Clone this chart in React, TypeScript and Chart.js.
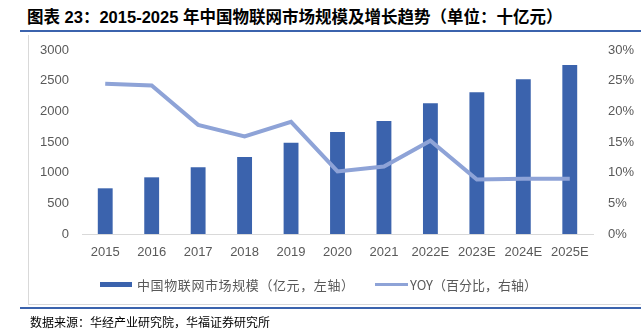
import React, { useEffect, useRef } from "react";
import { Chart, registerables } from "chart.js";

Chart.register(...registerables);

const categories = ["2015", "2016", "2017", "2018", "2019", "2020", "2021", "2022E", "2023E", "2024E", "2025E"];
const marketSize = [745, 924, 1087, 1255, 1489, 1663, 1842, 2130, 2310, 2522, 2755];
const yoyPct = [24.5, 24.2, 17.8, 15.9, 18.3, 10.2, 11.0, 15.2, 8.9, 9.0, 9.0];
const leftTickMax = 3000;
const leftTickStep = 500;
const rightTickMax = 30;
const rightTickStep = 5;

const titleText = "图表 23：2015-2025 年中国物联网市场规模及增长趋势（单位：十亿元）";
const barLabel = "中国物联网市场规模（亿元，左轴）";
const lineLabel = "YOY（百分比，右轴）";
const sourceText = "数据来源：华经产业研究院，华福证券研究所";

const BAR_COLOR = "#3B63AD";
const LINE_COLOR = "#8EA3D7";
const TICK_COLOR = "#595959";
const TICK_FONT = { family: "'Liberation Sans', Arial, sans-serif", size: 13 };

export default function App() {
  const canvasRef = useRef<HTMLCanvasElement | null>(null);

  useEffect(() => {
    if (!canvasRef.current) return;
    const chart = new Chart(canvasRef.current, {
      type: "bar",
      data: {
        labels: categories,
        datasets: [
          {
            type: "line",
            label: lineLabel,
            data: yoyPct,
            yAxisID: "y1",
            borderColor: LINE_COLOR,
            backgroundColor: LINE_COLOR,
            borderWidth: 4,
            pointRadius: 0,
            tension: 0,
            order: 0,
          },
          {
            type: "bar",
            label: barLabel,
            data: marketSize,
            yAxisID: "y",
            backgroundColor: BAR_COLOR,
            borderWidth: 0,
            barPercentage: 0.32,
            categoryPercentage: 1,
            order: 1,
          },
        ],
      },
      options: {
        responsive: false,
        animation: false,
        layout: { padding: { top: 50, left: 0, right: 0, bottom: 0 } },
        plugins: {
          legend: { display: false },
          title: { display: false },
          tooltip: { enabled: false },
        },
        scales: {
          x: {
            grid: { display: false, drawTicks: false },
            border: { display: true, color: "#D9D9D9", width: 1 },
            ticks: { color: TICK_COLOR, font: TICK_FONT, padding: 11, maxRotation: 0 },
            afterFit: (s: any) => {
              s.height = 100;
            },
          },
          y: {
            position: "left",
            min: 0,
            max: leftTickMax,
            grid: { display: false, drawTicks: false },
            border: { display: false },
            ticks: {
              stepSize: leftTickStep,
              color: TICK_COLOR,
              font: TICK_FONT,
              padding: 13,
              callback: (v: any) => String(v),
            },
            afterFit: (s: any) => {
              s.width = 82;
            },
          },
          y1: {
            position: "right",
            min: 0,
            max: rightTickMax,
            grid: { display: false, drawTicks: false },
            border: { display: false },
            ticks: {
              stepSize: rightTickStep,
              color: TICK_COLOR,
              font: TICK_FONT,
              padding: 15,
              callback: (v: any) => v + "%",
            },
            afterFit: (s: any) => {
              s.width = 48;
            },
          },
        },
      },
    } as any);
    return () => chart.destroy();
  }, []);

  const cjk = "'Noto Sans CJK SC', 'Liberation Sans', sans-serif";

  return (
    <div
      style={{
        position: "absolute",
        left: 0,
        top: 0,
        width: 641,
        height: 334,
        background: "#fff",
        overflow: "hidden",
        fontFamily: cjk,
      }}
    >
      <div
        style={{
          position: "absolute",
          left: 27,
          top: 6,
          fontSize: 16.5,
          fontWeight: "bold",
          color: "#000",
          whiteSpace: "nowrap",
          fontFamily: "'Liberation Sans', 'Noto Sans CJK SC', sans-serif",
          lineHeight: "22px",
        }}
      >
        {titleText}
      </div>
      <div style={{ position: "absolute", left: 20, top: 30, width: 621, height: 2, background: "#3B63AD" }} />
      <div style={{ position: "absolute", left: 28, top: 35, width: 1, height: 270, background: "#D9D9D9" }} />
      <div style={{ position: "absolute", left: 28, top: 304, width: 613, height: 1, background: "#D9D9D9" }} />
      <div style={{ position: "absolute", left: 20, top: 307, width: 621, height: 2, background: "#3B63AD" }} />
      <canvas
        ref={canvasRef}
        width={641}
        height={334}
        style={{ position: "absolute", left: 0, top: 0, width: 641, height: 334 }}
      />
      <div
        style={{
          position: "absolute",
          left: 100,
          top: 274,
          height: 20,
          display: "flex",
          alignItems: "center",
          fontSize: 13,
          color: TICK_COLOR,
          whiteSpace: "nowrap",
          letterSpacing: 0.6,
        }}
      >
        <span style={{ display: "inline-block", width: 32, height: 5, background: BAR_COLOR, marginRight: 5 }} />
        <span>{barLabel}</span>
      </div>
      <div
        style={{
          position: "absolute",
          left: 375,
          top: 274,
          height: 20,
          display: "flex",
          alignItems: "center",
          fontSize: 13,
          color: TICK_COLOR,
          whiteSpace: "nowrap",
        }}
      >
        <span style={{ display: "inline-block", width: 33, height: 3, background: LINE_COLOR, marginRight: 2 }} />
        <span>{lineLabel}</span>
      </div>
      <div
        style={{
          position: "absolute",
          left: 30,
          top: 314,
          fontSize: 12,
          color: "#000",
          whiteSpace: "nowrap",
          lineHeight: "16px",
        }}
      >
        {sourceText}
      </div>
    </div>
  );
}
